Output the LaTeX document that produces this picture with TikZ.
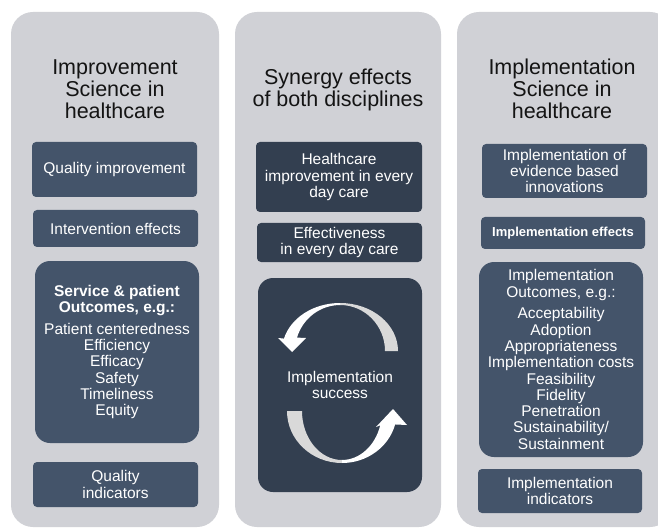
\documentclass[tikz,border=0pt]{standalone}
\usepackage{fontspec}
\setmainfont{Liberation Sans}
\definecolor{panelc}{RGB}{208,209,214}
\definecolor{boxA}{RGB}{68,84,106}
\definecolor{boxB}{RGB}{51,63,80}
\definecolor{arrgray}{RGB}{217,217,217}
\definecolor{titlec}{RGB}{20,20,20}
\begin{document}
\begin{tikzpicture}[x=1pt,y=-1pt,
  panelbox/.style={fill=panelc, rounded corners=22pt, inner sep=0pt, minimum width=206pt, minimum height=515pt},
  titletext/.style={text=titlec, align=center, inner sep=0pt, font=\fontsize{21.5}{22}\selectfont},
  boxbase/.style={rounded corners=4pt, text=white, align=center, inner sep=0pt, font=\fontsize{15.5}{16.3}\selectfont},
  boxa/.style={boxbase, fill=boxA},
  boxb/.style={boxbase, fill=boxB},
  bigbox/.style={rounded corners=15pt}]
\useasboundingbox (0,0) rectangle (658,529);
\clip (0,0) rectangle (658,529);
\fill[white] (0,0) rectangle (658,529);

% panels
\node[panelbox, minimum width=208pt] (pL) at (115,269.5) {};
\node[panelbox] (pM) at (338,269.5) {};
\node[panelbox, minimum width=215pt] (pR) at (564.5,269.5) {};

% titles
\node[titletext] (tL) at (115,89) {Improvement\\Science in\\healthcare};
\node[titletext] (tM) at (338,90) {Synergy effects\\of both disciplines};
\node[titletext] (tR) at (562,89) {Implementation\\Science in\\healthcare};

% left column
\node[boxa, minimum width=165pt, minimum height=55pt] (l1) at (114.5,169.5) {Quality improvement};
\node[boxa, minimum width=165pt, minimum height=37pt] (l2) at (115.5,228.5) {Intervention effects};
\node[boxa, bigbox, minimum width=164pt, minimum height=182pt] (l3) at (117,352)
  {\textbf{Service \& patient}\\\textbf{Outcomes, e.g.:}\\[5.5pt]Patient centeredness\\Efficiency\\Efficacy\\Safety\\Timeliness\\Equity};
\node[boxa, minimum width=165pt, minimum height=45pt] (l4) at (115.5,484.5) {Quality\\indicators};

% middle column
\node[boxb, minimum width=166pt, minimum height=70pt] (m1) at (339,177) {Healthcare\\improvement in every\\day care};
\node[boxb, minimum width=165pt, minimum height=39pt] (m2) at (339.5,242.5) {Effectiveness\\in every day care};
\node[boxb, bigbox, minimum width=164pt, minimum height=214pt] (m3) at (340,385) {Implementation\\success};

% cycle arrows
\fill[arrgray] (398,351) arc[start angle=0,end angle=90,x radius=58pt,y radius=48pt]
  -- (340,305) arc[start angle=90,end angle=0,x radius=45pt,y radius=46pt] -- cycle;
\fill[white] (340,303) arc[start angle=90,end angle=165,x radius=58pt,y radius=48pt]
  -- (278,338) -- (292,352) -- (306,338) -- (297,337.6)
  arc[start angle=163,end angle=90,x radius=45pt,y radius=46pt] -- cycle;
\fill[arrgray] (287,411) arc[start angle=180,end angle=270,x radius=55pt,y radius=52pt]
  -- (342,460) arc[start angle=270,end angle=180,x radius=40pt,y radius=49pt] -- cycle;
\fill[white] (342,463) arc[start angle=270,end angle=345,x radius=55pt,y radius=52pt]
  -- (407,425) -- (393,409) -- (376,427) -- (380.25,425.3)
  arc[start angle=343,end angle=270,x radius=40pt,y radius=49pt] -- cycle;

% right column
\node[boxa, minimum width=165pt, minimum height=54pt] (r1) at (564.5,171) {Implementation of\\evidence based\\innovations};
\node[boxa, minimum width=164pt, minimum height=32pt, font=\bfseries\fontsize{13}{14}\selectfont] (r2) at (563,233) {Implementation effects};
\node[boxa, bigbox, minimum width=164pt, minimum height=195pt] (r3) at (561,359.5)
  {Implementation\\Outcomes, e.g.:\\[5.5pt]Acceptability\\Adoption\\Appropriateness\\Implementation costs\\Feasibility\\Fidelity\\Penetration\\Sustainability/\\Sustainment};
\node[boxa, minimum width=164pt, minimum height=44pt] (r4) at (560,491) {Implementation\\indicators};
\end{tikzpicture}
\end{document}
